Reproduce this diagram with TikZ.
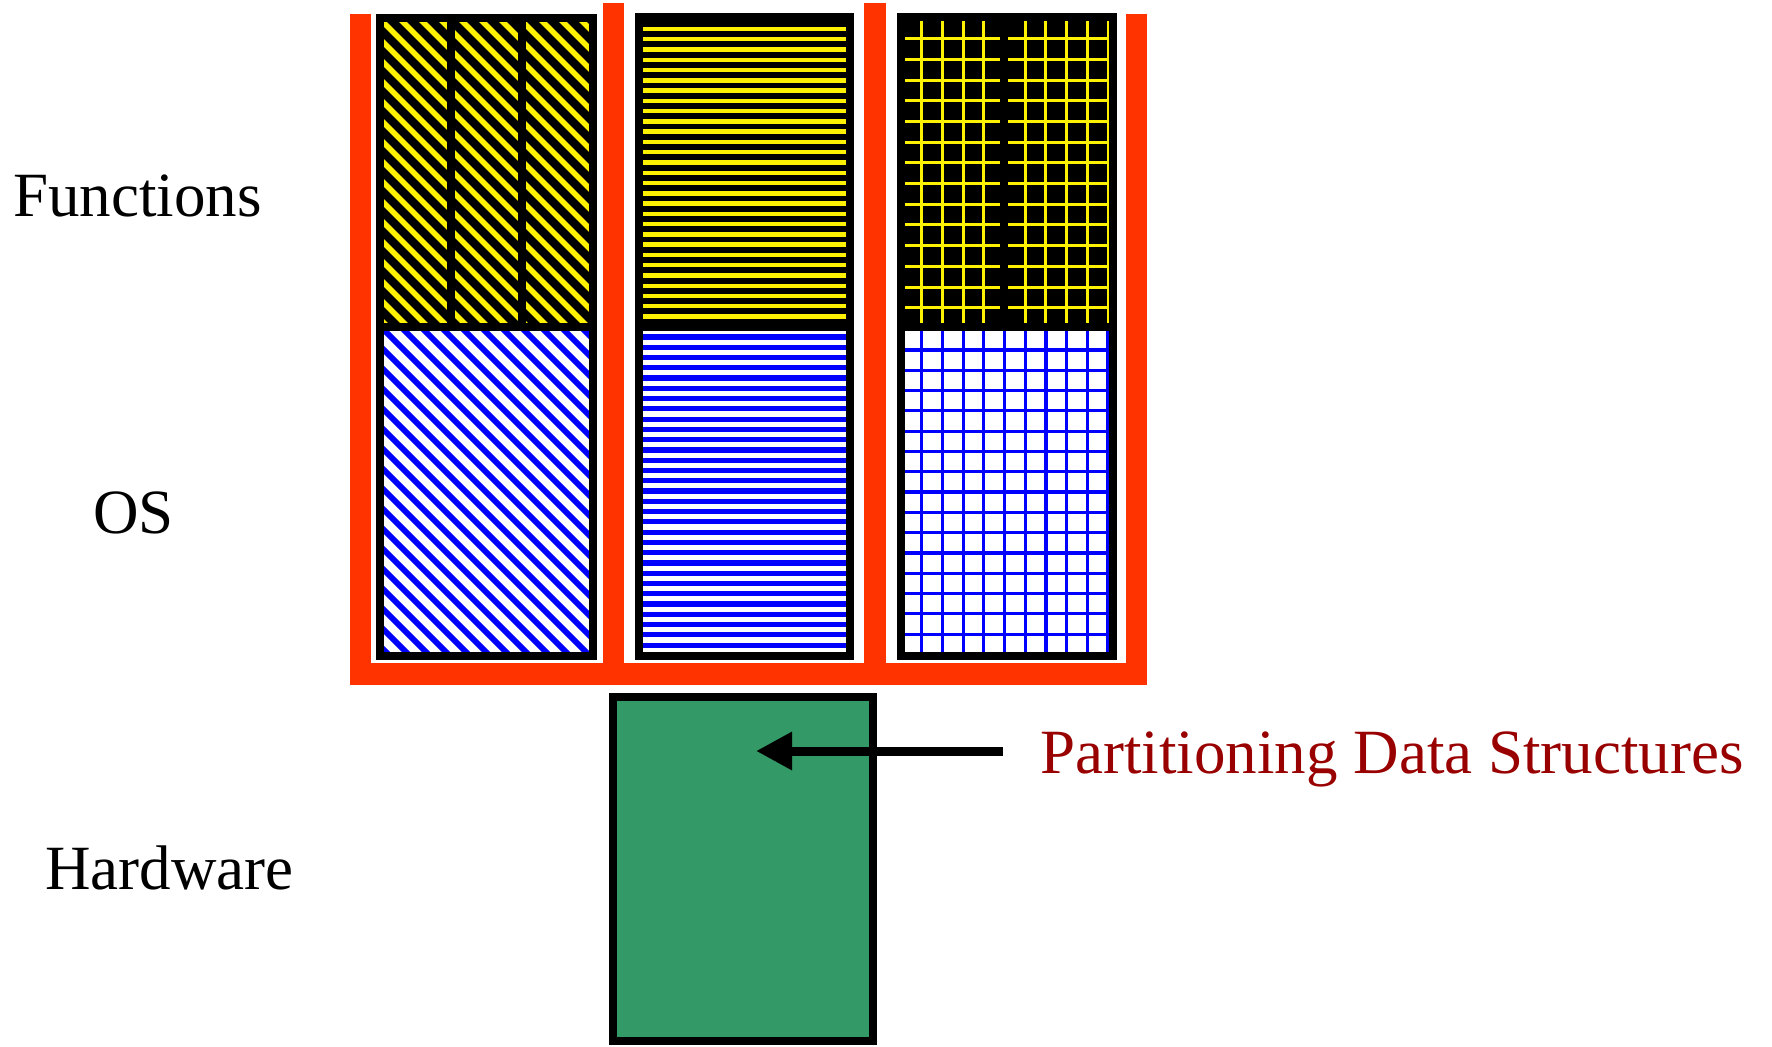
\documentclass[tikz,border=0pt]{standalone}
\usepackage{fontspec}
\setmainfont{Liberation Serif}
\usetikzlibrary{positioning, arrows.meta}

\definecolor{wallred}{RGB}{255,51,0}
\definecolor{hwgreen}{RGB}{51,153,102}
\definecolor{tagred}{RGB}{153,0,0}

\begin{document}
\begin{tikzpicture}[x=0.5pt, y=-0.5pt,
    wall/.style={fill=wallred},
    frame/.style={draw=black, line width=4pt},
    txt/.style={anchor=base west, inner sep=0pt, font=\fontsize{31.5}{38}\selectfont},
    ydiag/.style={yellow, line width=2.8pt},
    bdiag/.style={blue, line width=2.9pt},
    yline/.style={yellow, line width=2.2pt},
    bline/.style={blue, line width=2.6pt},
    ygrid/.style={yellow, line width=1.5pt},
    bgrid/.style={blue, line width=1.6pt},
    pointer/.style={-{Triangle[length=18pt, width=18pt]}, line width=4.5pt}]
    \useasboundingbox (0,0) rectangle (1772,1047);

    % red walls around the partitions
    \fill[wall] (350,14) rectangle (371,685);
    \fill[wall] (603,3) rectangle (624,663);
    \fill[wall] (864,3) rectangle (886,663);
    \fill[wall] (1126,14) rectangle (1147,685);
    \fill[wall] (350,663) rectangle (1147,685);

    % partition 1
    \begin{scope}
        \clip (380,18) rectangle (593,327);
        \fill[black] (380,18) rectangle (593,327);
        \foreach \c in {41,61,...,601} {
            \draw[ydiag] (\c,0) -- ++(400,400);
        }
    \end{scope}
    \begin{scope}
        \clip (380,327) rectangle (593,656);
        \fill[white] (380,327) rectangle (593,656);
        \foreach \c in {-286,-266,...,294} {
            \draw[bdiag] (\c,0) -- ++(700,700);
        }
    \end{scope}
    \draw[frame] (380,18) rectangle (593,656);
    \draw[frame] (380,327) -- (593,327);
    \draw[frame] (451,18) -- (451,327);
    \draw[frame] (522,18) -- (522,327);

    % partition 2
    \begin{scope}
        \clip (639,17) rectangle (850,327);
        \fill[black] (639,17) rectangle (850,327);
        \foreach \k in {-1,0,...,28} {
            \draw[yline] (639,29+10.27*\k) -- (850,29+10.27*\k);
        }
    \end{scope}
    \begin{scope}
        \clip (639,327) rectangle (850,656);
        \fill[white] (639,327) rectangle (850,656);
        \foreach \k in {0,...,31} {
            \draw[bline] (639,337+10.27*\k) -- (850,337+10.27*\k);
        }
    \end{scope}
    \draw[frame] (639,17) rectangle (850,656);
    \draw[frame] (639,327) -- (850,327);

    % partition 3
    \begin{scope}
        \clip (901,17) rectangle (1113,327);
        \fill[black] (901,17) rectangle (1113,327);
        \foreach \i in {0,...,9} {
            \draw[ygrid] (921.7+20.7*\i,17) -- (921.7+20.7*\i,327);
        }
        \foreach \j in {0,...,13} {
            \draw[ygrid] (901,38.7+20.7*\j) -- (1113,38.7+20.7*\j);
        }
    \end{scope}
    \begin{scope}
        \clip (901,327) rectangle (1113,656);
        \fill[white] (901,327) rectangle (1113,656);
        \foreach \i in {0,...,9} {
            \draw[bgrid] (921.7+20.7*\i,327) -- (921.7+20.7*\i,656);
        }
        \foreach \j in {0,...,14} {
            \draw[bgrid] (901,350+20.3*\j) -- (1113,350+20.3*\j);
        }
    \end{scope}
    \draw[frame] (901,17) rectangle (1113,656);
    \draw[frame] (901,327) -- (1113,327);
    \draw[frame] (1004,17) -- (1004,327);

    % hardware
    \node[frame, fill=hwgreen, minimum width=130pt, minimum height=172pt, inner sep=0pt] (hw) at (743,869) {};

    % layer names
    \node[txt] (fn) at (13,217) {Functions};
    \node[txt] (os) at (93,534) {OS};
    \node[txt] (hwname) at (45,889) {Hardware};
    \node[txt, text=tagred] (pds) at (1040,773) {Partitioning Data Structures};

    \coordinate (tail) at (1003,751);
    \coordinate (tip) at (756,751);
    \draw[pointer] (tail) -- (tip);
\end{tikzpicture}
\end{document}
